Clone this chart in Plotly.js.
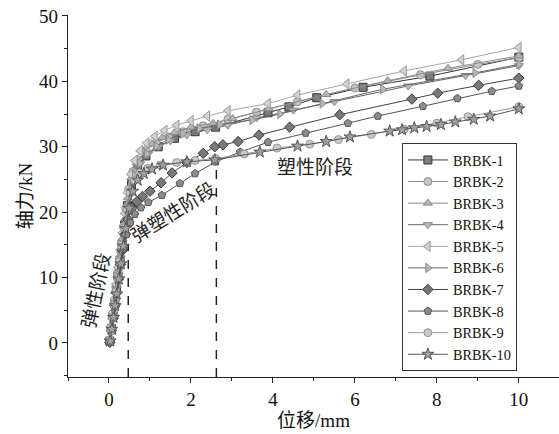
<!DOCTYPE html>
<html>
<head>
<meta charset="utf-8">
<script src="https://cdn.plot.ly/plotly-3.0.1.min.js"></script>
<style>html,body{margin:0;padding:0;background:#fff;}#chart{width:559px;height:434px;}</style>
</head>
<body>
<div id="chart"></div>
<script>
// ---- data ----
const seriesNames = ["BRBK-1","BRBK-2","BRBK-3","BRBK-4","BRBK-5","BRBK-6","BRBK-7","BRBK-8","BRBK-9","BRBK-10"];

const x1 = [0.02,0.06,0.10,0.14,0.18,0.22,0.27,0.32,0.38,0.45,0.55,0.7,0.9,1.2,1.6,2.1,2.6,3.88,4.39,5.07,6.2,7.83,10];
const y1 = [0.3,2.2,4.1,6.0,8.1,10.2,12.6,15.1,18.0,21.0,24.2,26.8,28.6,30.0,31.3,32.3,33.0,35.2,36.1,37.5,39.1,40.8,43.7];

const x2 = [0.01,0.05,0.09,0.13,0.17,0.21,0.25,0.30,0.35,0.41,0.48,0.58,0.72,0.9,1.15,1.45,1.8,2.3,2.9,3.6,4.6,6.0,7.6,9.0,10];
const y2 = [0.5,2.4,4.4,6.5,8.6,10.7,12.8,15.2,17.8,20.6,23.5,26.2,28.0,29.4,30.6,31.5,32.3,33.2,34.2,35.3,36.9,39.0,41.0,42.6,43.6];

const x3 = [0.03,0.07,0.11,0.15,0.19,0.23,0.28,0.33,0.39,0.46,0.55,0.68,0.85,1.05,1.3,1.6,2.0,2.54,3.02,3.9,5.3,6.8,8.27,10];
const y3 = [0.4,2.5,4.6,6.7,8.8,11.0,13.5,16.0,19.0,22.2,25.3,27.6,29.2,30.4,31.4,32.2,33.0,33.6,34.3,35.8,38.0,40.1,42.0,43.9];

const x4 = [0.02,0.06,0.1,0.15,0.2,0.25,0.3,0.36,0.43,0.51,0.62,0.76,0.95,1.2,1.5,1.9,2.4,2.9,3.6,4.5,5.5,7.3,8.7,10];
const y4 = [0.2,2.0,4.0,6.4,8.8,11.2,13.6,16.4,19.5,22.6,25.4,27.4,28.9,30.0,30.9,31.8,32.6,33.3,34.4,35.6,36.9,39.3,40.9,42.4];

const x5 = [0.01,0.05,0.09,0.13,0.17,0.22,0.27,0.32,0.38,0.45,0.53,0.63,0.76,0.92,1.12,1.36,1.65,2.0,2.4,2.9,3.88,4.6,5.8,7.2,8.6,10];
const y5 = [0.6,2.6,4.7,6.8,9.0,11.6,14.2,16.8,19.8,23.0,25.8,27.9,29.4,30.6,31.6,32.5,33.3,34.0,34.7,35.5,36.6,37.9,39.6,41.6,43.3,45.2];

const x6 = [0.03,0.07,0.12,0.16,0.21,0.26,0.31,0.37,0.44,0.52,0.62,0.75,0.92,1.15,1.45,1.8,2.2,2.7,3.49,4.17,5.2,6.68,8.93,10];
const y6 = [0.3,2.3,4.8,6.9,9.3,11.7,14.1,16.8,19.9,23.0,25.6,27.5,28.9,30.1,31.1,32.0,32.8,33.4,34.1,35.0,36.6,38.8,41.3,42.6];

const x7 = [0.02,0.06,0.1,0.14,0.18,0.23,0.28,0.33,0.39,0.46,0.56,0.68,0.82,1.0,1.27,1.54,1.9,2.3,2.58,2.78,3.15,3.66,4.41,5.63,7.39,8.02,9.02,10];
const y7 = [0.1,1.9,3.8,5.7,7.6,9.8,12.0,14.2,16.6,18.9,20.6,21.6,22.4,23.2,24.5,26.0,27.6,29.0,30.0,30.3,30.8,31.8,33.0,34.9,37.3,38.2,39.4,40.5];

const x8 = [0.04,0.08,0.12,0.16,0.2,0.25,0.3,0.36,0.43,0.52,0.63,0.78,0.96,1.29,1.73,2.1,2.6,3.2,3.88,4.8,5.83,6.56,7.66,8.5,9.34,10];
const y8 = [0.2,2.0,3.9,5.8,7.7,9.9,12.1,14.4,16.6,18.4,19.7,20.7,21.5,22.6,24.4,25.9,27.7,29.2,30.7,32.1,33.6,34.7,36.2,37.4,38.5,39.3];

const x9 = [0.02,0.05,0.09,0.13,0.17,0.21,0.26,0.31,0.37,0.44,0.52,0.62,0.75,0.95,1.25,1.65,2.1,2.6,3.3,4.1,4.9,5.6,6.4,7.2,8.0,8.76,10];
const y9 = [0.4,1.8,3.8,5.8,7.8,9.9,12.4,14.9,17.6,20.4,23.0,24.9,26.0,26.7,27.2,27.6,27.9,28.2,28.9,29.8,30.4,31.1,31.9,32.7,33.6,34.6,36.1];

const x10 = [0.03,0.07,0.11,0.15,0.19,0.24,0.29,0.35,0.41,0.49,0.58,0.7,0.85,1.05,1.32,1.9,2.58,3.68,4.6,5.3,5.88,6.85,7.15,7.45,7.75,8.1,8.45,8.9,9.3,10];
const y10 = [0.3,2.1,3.9,5.7,7.5,9.8,12.1,14.8,17.5,20.6,23.2,24.9,25.9,26.6,27.2,27.7,28.0,29.2,30.1,30.8,31.5,32.4,32.6,32.9,33.1,33.4,33.8,34.2,34.7,35.8];

const xValues = [x1,x2,x3,x4,x5,x6,x7,x8,x9,x10];
const yValues = [y1,y2,y3,y4,y5,y6,y7,y8,y9,y10];

// stage boundaries (mm) and annotation labels
const stageX = [0.47, 2.62];
const stageTop = [15, 27.5];
const stageLabels = ["弹性阶段","弹塑性阶段","塑性阶段"];

// ---- styles ----
const symbols = ["square","circle","triangle-up","triangle-down","triangle-left","triangle-right","diamond","pentagon","circle","star"];
const fills   = ["#7d7d7d","#c4c4c4","#b4b4b4","#b9b9b9","#d2d2d2","#b8b8b8","#787878","#8c8c8c","#c9c9c9","#a0a0a0"];
const edges   = ["#333333","#8f8f8f","#888888","#888888","#9a9a9a","#888888","#3c3c3c","#555555","#959595","#555555"];
const lines   = ["#333333","#8a8a8a","#8a8a8a","#666666","#a6a6a6","#666666","#444444","#555555","#9a9a9a","#555555"];
const sizes   = [8,8,8,8,9,8,8,8,8,9];

const traces = seriesNames.map((name,i)=>({
  type:"scatter", mode:"lines+markers", name:name,
  x:xValues[i], y:yValues[i],
  line:{color:lines[i], width:1},
  marker:{symbol:symbols[i], size:sizes[i], color:fills[i], line:{color:edges[i], width:1}}
}));

const serif = "Liberation Serif, Noto Sans CJK SC, serif";
const cjk = "Noto Sans CJK SC, sans-serif";

const shapes = stageX.map((sx,i)=>({
  type:"line", xref:"x", yref:"y", x0:sx, x1:sx, y0:-5.2, y1:stageTop[i],
  line:{color:"#222", width:1.5, dash:"dash"}
}));

const annotations = [
  {x:-0.37, y:8.1, xref:"x", yref:"y", text:stageLabels[0], showarrow:false, textangle:-78, font:{family:cjk, size:19, color:"#222"}},
  {x:1.56, y:20.2, xref:"x", yref:"y", text:stageLabels[1], showarrow:false, textangle:-32, font:{family:cjk, size:19, color:"#222"}},
  {x:5.02, y:27.1, xref:"x", yref:"y", text:stageLabels[2], showarrow:false, font:{family:cjk, size:19, color:"#222"}}
];

const layout = {
  width:559, height:434,
  margin:{l:68, r:0, t:15, b:57},
  paper_bgcolor:"#fff", plot_bgcolor:"#fff",
  showlegend:true,
  legend:{x:0.68, y:0.646, xanchor:"left", yanchor:"top", bgcolor:"#fff", bordercolor:"#333", borderwidth:1,
          font:{family:serif, size:14.3, color:"#111"}, itemwidth:40, tracegroupgap:0},
  xaxis:{range:[-1,10.98], dtick:2, tick0:0, ticks:"outside", ticklen:5, tickwidth:1, tickcolor:"#222",
         showline:true, linecolor:"#222", linewidth:1.2, showgrid:false, zeroline:false,
         minor:{dtick:1, ticks:"outside", ticklen:3, tickcolor:"#222"},
         tickfont:{family:serif, size:19, color:"#111"},
         title:{text:"位移/mm", font:{family:serif, size:19, color:"#111"}, standoff:4}},
  yaxis:{range:[-5.2,50.15], dtick:10, tick0:0, ticks:"outside", ticklen:5, tickwidth:1, tickcolor:"#222",
         showline:true, linecolor:"#222", linewidth:1.2, showgrid:false, zeroline:false,
         minor:{dtick:5, ticks:"outside", ticklen:3, tickcolor:"#222"},
         tickfont:{family:serif, size:19, color:"#111"},
         title:{text:"轴力/kN", font:{family:serif, size:19, color:"#111"}, standoff:1}},
  shapes:shapes,
  annotations:annotations
};

Plotly.newPlot("chart", traces, layout, {displayModeBar:false, staticPlot:true});
</script>
</body>
</html>
